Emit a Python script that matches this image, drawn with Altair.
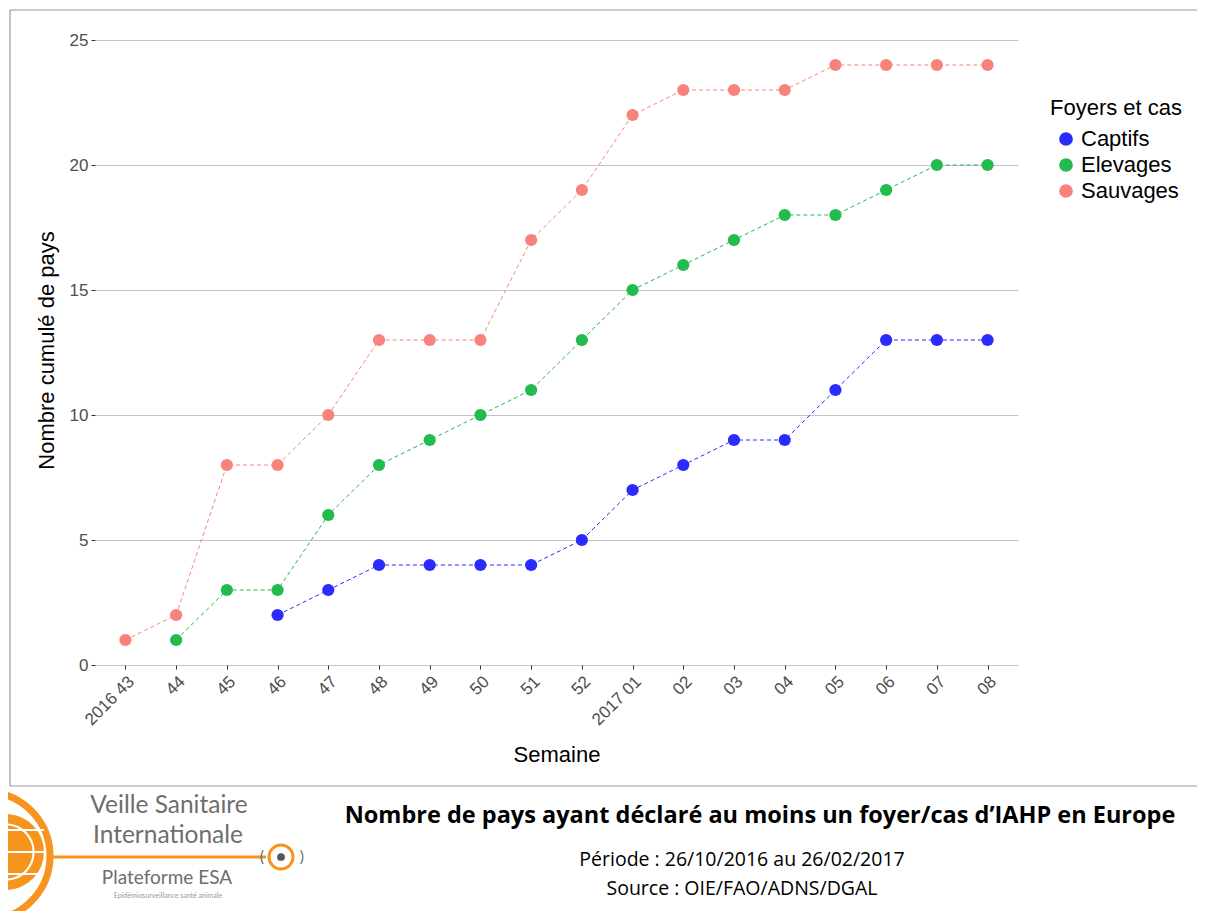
import altair as alt
import pandas as pd

# ---- data ----
weeks = ["2016 43", "44", "45", "46", "47", "48", "49", "50", "51", "52",
         "2017 01", "02", "03", "04", "05", "06", "07", "08"]
captifs = [None, None, None, 2, 3, 4, 4, 4, 4, 5, 7, 8, 9, 9, 11, 13, 13, 13]
elevages = [None, 1, 3, 3, 6, 8, 9, 10, 11, 13, 15, 16, 17, 18, 18, 19, 20, 20]
sauvages = [1, 2, 8, 8, 10, 13, 13, 13, 17, 19, 22, 23, 23, 23, 24, 24, 24, 24]
series_names = ["Captifs", "Elevages", "Sauvages"]
series_colors = ["#2b2bff", "#22bb4d", "#f8837c"]
y_ticks = [0, 5, 10, 15, 20, 25]

title_text = "Nombre de pays ayant déclaré au moins un foyer/cas d\u2019IAHP en Europe"
periode_text = "Période : 26/10/2016 au 26/02/2017"
source_text = "Source : OIE/FAO/ADNS/DGAL"

rows = []
for name, vals in zip(series_names, [captifs, elevages, sauvages]):
    for w, v in zip(weeks, vals):
        if v is not None:
            rows.append({"Semaine": w, "Valeur": v, "Serie": name})
df = pd.DataFrame(rows)
dummy = pd.DataFrame({"k": [0]})

FONT = "Liberation Sans"
W, H = 923, 630
PAD_L, PAD_T = 87, 27
PAD_R = 1189 - PAD_L - W
PAD_B = 903 - PAD_T - H

# page coordinates -> plot coordinates
def px(x):
    return x - 8 - PAD_L

def py(y):
    return y - 8 - PAD_T

x_enc = alt.X("Semaine:N", sort=weeks,
              scale=alt.Scale(type="point", padding=0.6),
              axis=alt.Axis(title="Semaine", labelAngle=315, labelAlign="right",
                            labelBaseline="top", labelPadding=4,
                            labelFontSize=17, labelColor="#4d4d4d",
                            titleFontSize=22, titleFontWeight="normal",
                            titleColor="#000000", titlePadding=17,
                            tickSize=4, tickColor="#333333", domain=False,
                            grid=False))
y_enc = alt.Y("Valeur:Q",
              scale=alt.Scale(domain=[0, 25.2], nice=False, zero=True),
              axis=alt.Axis(title="Nombre cumulé de pays", values=y_ticks,
                            labelFontSize=17, labelColor="#4d4d4d", labelPadding=3,
                            titleFontSize=22, titleFontWeight="normal",
                            titleColor="#000000", titlePadding=11,
                            tickSize=4, tickColor="#333333", domain=False,
                            grid=True, gridColor="#c4c4c4", gridWidth=1))
color_enc = alt.Color("Serie:N",
                      scale=alt.Scale(domain=series_names, range=series_colors),
                      legend=alt.Legend(title="Foyers et cas", orient="none",
                                        legendX=px(1050), legendY=py(98),
                                        titleFontSize=22, titleFontWeight="normal",
                                        titleColor="#000000", labelFontSize=22,
                                        labelColor="#000000", symbolType="circle",
                                        symbolSize=150, rowPadding=4,
                                        symbolOffset=5,
                                        titlePadding=8, labelOffset=4))

BORDER = "#9a9a9a"
border = [
    alt.Chart(dummy).mark_rule(color=BORDER, strokeWidth=1.2).encode(
        x=alt.value(px(10)), x2=alt.value(px(1215)), y=alt.value(py(10))),
    alt.Chart(dummy).mark_rule(color=BORDER, strokeWidth=1.2).encode(
        x=alt.value(px(10)), x2=alt.value(px(1215)), y=alt.value(py(786))),
    alt.Chart(dummy).mark_rule(color=BORDER, strokeWidth=1.2).encode(
        x=alt.value(px(10)), y=alt.value(py(10)), y2=alt.value(py(786))),
]

lines = alt.Chart(df).mark_line(strokeDash=[4, 3], strokeWidth=1).encode(
    x=x_enc, y=y_enc, color=color_enc, detail="Serie:N")
points = alt.Chart(df).mark_circle(size=150, opacity=1).encode(
    x=x_enc, y=y_enc, color=color_enc)

def txt(text, x, y, size, weight="normal", color="#000000", font="Open Sans", align="center"):
    return alt.Chart(dummy).mark_text(fontSize=size, fontWeight=weight, color=color,
                                      font=font, align=align, baseline="middle").encode(
        x=alt.value(px(x)), y=alt.value(py(y)), text=alt.value(text))

footer = [
    txt(title_text, 760, 816, 23.5, weight="bold"),
    txt(periode_text, 742, 860, 19.5),
    txt(source_text, 742, 889, 19.5),
]

ORANGE = "#f7941d"
GRAY = "#6e6e6e"
logo_parts = [
    alt.Chart(dummy).mark_point(shape="circle", filled=False, stroke=ORANGE,
                                strokeWidth=7, opacity=1, size=128 * 128).encode(
        x=alt.value(px(-14)), y=alt.value(py(856))),
    alt.Chart(dummy).mark_circle(color=ORANGE, opacity=1, size=76 * 76).encode(
        x=alt.value(px(6)), y=alt.value(py(852))),
    alt.Chart(dummy).mark_point(shape="circle", filled=False, stroke="white",
                                strokeWidth=2, opacity=1, size=40 * 76).encode(
        x=alt.value(px(6)), y=alt.value(py(852))),
    alt.Chart(dummy).mark_rule(color="white", strokeWidth=2).encode(
        x=alt.value(px(-32)), x2=alt.value(px(44)), y=alt.value(py(852))),
    alt.Chart(dummy).mark_rule(color="white", strokeWidth=2).encode(
        x=alt.value(px(-32)), x2=alt.value(px(44)), y=alt.value(py(830))),
    alt.Chart(dummy).mark_rule(color="white", strokeWidth=2).encode(
        x=alt.value(px(-32)), x2=alt.value(px(44)), y=alt.value(py(874))),
    alt.Chart(dummy).mark_rule(color=ORANGE, strokeWidth=3).encode(
        x=alt.value(px(50)), x2=alt.value(px(266)), y=alt.value(py(857))),
    alt.Chart(dummy).mark_point(shape="circle", filled=False, stroke=ORANGE,
                                strokeWidth=3, opacity=1, size=24 * 24).encode(
        x=alt.value(px(281)), y=alt.value(py(857))),
    alt.Chart(dummy).mark_circle(color="#555555", opacity=1, size=60).encode(
        x=alt.value(px(281)), y=alt.value(py(857))),
    txt("(", 262, 857, 16, color=GRAY, font="Lato"),
    txt(")", 302, 857, 16, color=GRAY, font="Lato"),
    txt("Veille Sanitaire", 169, 806, 24.5, color=GRAY, font="Lato"),
    txt("Internationale", 168, 836, 24.5, color=GRAY, font="Lato"),
    txt("Plateforme ESA", 167, 878, 19, color=GRAY, font="Lato"),
    txt("Epidémiosurveillance santé animale", 168, 896, 7, color="#999999", font="Lato"),
]

chart = alt.layer(*border, lines, points, *footer, *logo_parts).properties(
    width=W, height=H,
    autosize=alt.AutoSizeParams(type="none"),
    padding={"left": PAD_L, "top": PAD_T, "right": PAD_R, "bottom": PAD_B},
).configure(font=FONT, background="white").configure_view(stroke=None)

chart.save("out.html", embed_options={"renderer": "svg", "actions": False})
